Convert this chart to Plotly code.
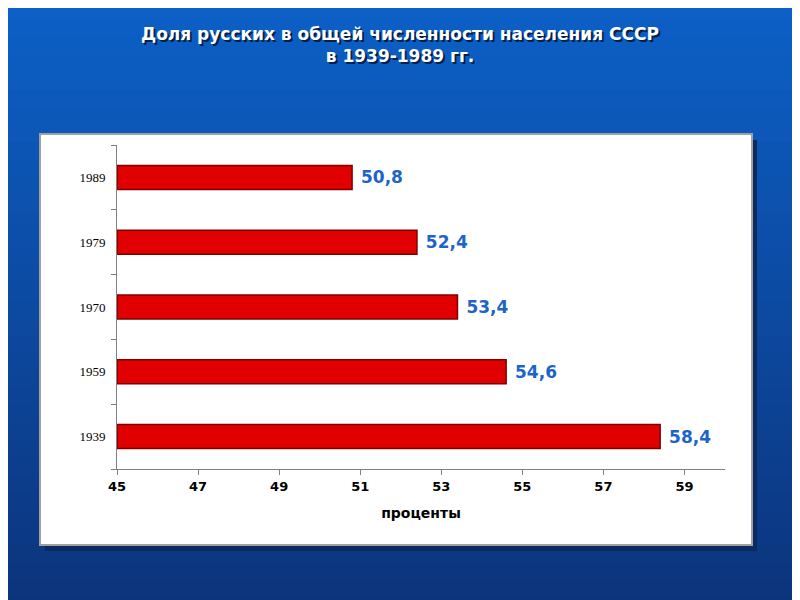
import plotly.graph_objects as go

years = ["1939", "1959", "1970", "1979", "1989"]
shares = [58.4, 54.6, 53.4, 52.4, 50.8]
x_ticks = [45, 47, 49, 51, 53, 55, 57, 59]

# plot area in page pixels (page has an 8px body offset)
L, R, T, B = 117, 725, 145, 469
OFF = 8


def px(x, y):
    return (x - L) / (R - L), (B - y) / (B - T)


shapes = []
n = 40
for i in range(n):
    t = i / (n - 1)
    g = int(100 - 50 * t)
    b = int(205 - 85 * t)
    x0, y1 = px(-50, i * 700 / n - 50)
    x1, y0 = px(900, (i + 1) * 700 / n - 50)
    shapes.append(dict(type="rect", xref="paper", yref="paper", x0=x0, x1=x1, y0=y0 - 0.002, y1=y1,
                       fillcolor=f"rgb(12,{g},{b})", line_width=0, layer="below"))
x0, y1 = px(45, 140)
x1, y0 = px(757, 551)
shapes.append(dict(type="rect", xref="paper", yref="paper", x0=x0, x1=x1, y0=y0, y1=y1,
                   fillcolor="#0a2a60", line_width=0, layer="below"))
x0, y1 = px(40, 134)
x1, y0 = px(752, 545)
shapes.append(dict(type="rect", xref="paper", yref="paper", x0=x0, x1=x1, y0=y0, y1=y1,
                   fillcolor="white", line=dict(color="#a0a0a0", width=2), layer="below"))

fig = go.Figure()
fig.add_trace(go.Bar(
    y=years, x=[v - 45 for v in shares], orientation="h",
    marker=dict(color="#e00000", line=dict(color="#800000", width=1.5)),
    width=0.37,
    text=["<b> " + f"{v:.1f}".replace(".", ",") + "</b>" for v in shares],
    textposition="outside", cliponaxis=False,
    textfont=dict(color="#1e64c8", size=17, family="DejaVu Sans"),
))

title_text = "<b>Доля русских в общей численности населения СССР<br>в 1939-1989 гг.</b>"
ann = []
for dx, dy, col in [(2, -2, "#05204a"), (0, 0, "white")]:
    ax, ay = px(400 + dx, 22 - dy)
    ann.append(dict(text=title_text, xref="paper", yref="paper", x=ax, y=ay, xanchor="center",
                    yanchor="top", showarrow=False,
                    font=dict(family="DejaVu Sans", size=17, color=col)))

fig.update_layout(
    width=800, height=600,
    margin=dict(l=L - OFF, r=800 - R + OFF, t=T - OFF, b=600 - B + OFF),
    paper_bgcolor="#0a4fa0", plot_bgcolor="white",
    shapes=shapes, annotations=ann, showlegend=False,
    xaxis=dict(range=[0, 15], tickvals=[v - 45 for v in x_ticks],
               ticktext=[f"<b>{v}</b>" for v in x_ticks],
               showgrid=False, zeroline=False, showline=True, linecolor="#808080",
               ticks="outside", tickcolor="#808080", ticklen=5,
               tickfont=dict(family="DejaVu Sans", size=13, color="black"),
               title=dict(text="<b>проценты</b>", font=dict(family="DejaVu Sans", size=14, color="black"),
                          standoff=15)),
    yaxis=dict(showgrid=False, showline=True, linecolor="#808080", ticks="outside", tickcolor="#808080",
               ticklen=5, tickson="boundaries", ticklabelstandoff=8,
               tickfont=dict(family="Liberation Serif", size=13, color="black")),
)

fig.write_html("out.html")
